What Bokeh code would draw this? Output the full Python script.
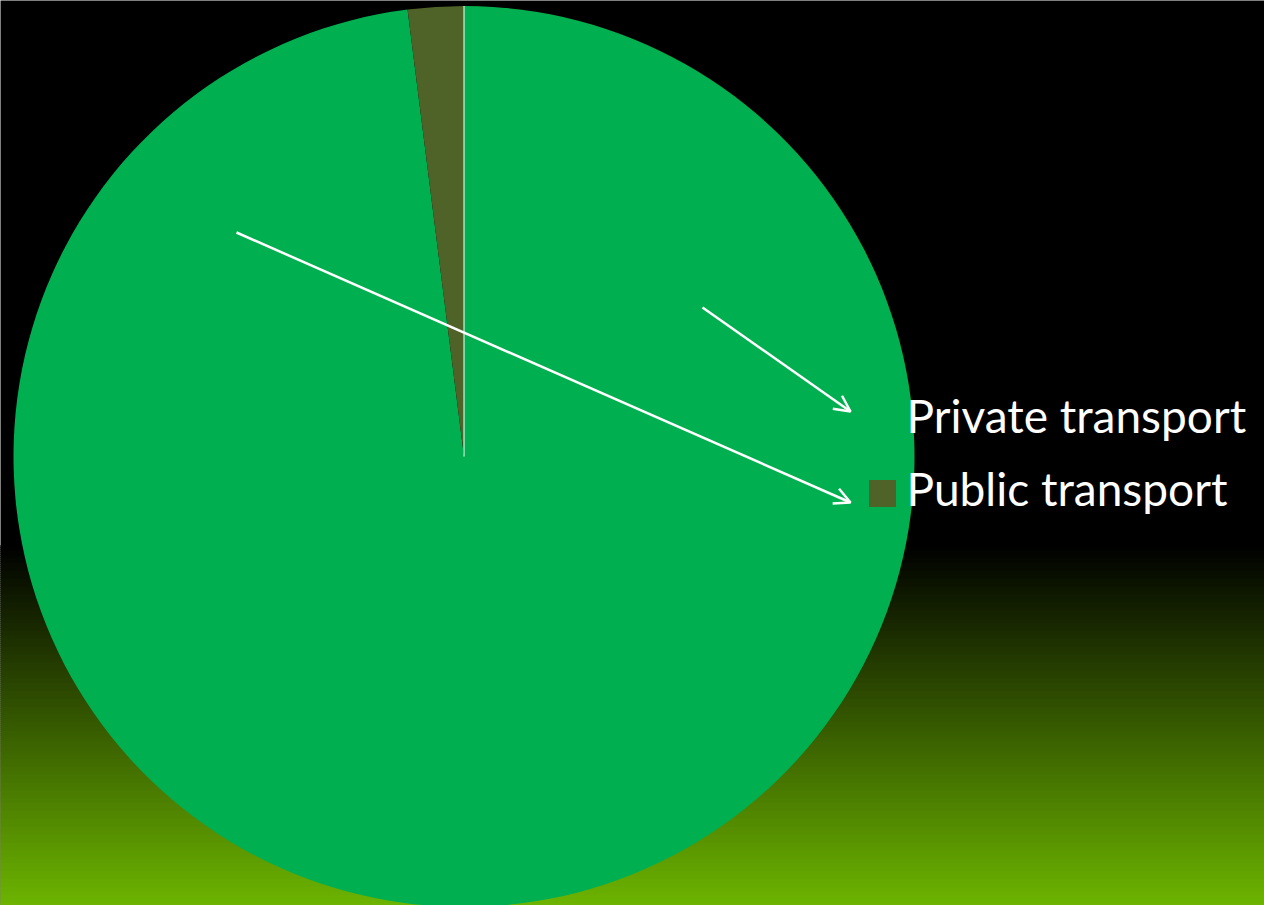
import math
import numpy as np
from bokeh.plotting import figure
from bokeh.models import Range1d, Arrow, OpenHead, ColumnDataSource
from bokeh.core.properties import value
from bokeh.embed import file_html
from bokeh.resources import INLINE

# ---- data ----
categories = ["Private transport", "Public transport"]
shares = [98.0, 2.0]
colors = ["#00B050", "#4F6228"]

W, H = 1264, 905
cx, cy, R = 463.5, H - 456, 450.5

p = figure(width=W, height=H, output_backend="svg", toolbar_location=None,
           x_range=Range1d(0, W), y_range=Range1d(0, H))
p.axis.visible = False
p.grid.visible = False
p.outline_line_color = None
p.min_border = 0
p.background_fill_color = "black"
p.border_fill_color = "black"

# background gradient (black -> green toward bottom)
g0, g1 = 545, H
n = 180
edges = np.linspace(g0, g1, n + 1)
cols = []
for i in range(n):
    t = (i + 0.5) / n
    r = int(round(108 * t)); g = int(round(180 * t))
    cols.append("#%02x%02x%02x" % (r, g, 0))
p.quad(left=0, right=W, top=[H - e for e in edges[:-1]], bottom=[H - e for e in edges[1:]],
       fill_color=cols, line_color=cols)

# pie (clockwise from 12 o'clock)
total = sum(shares)
starts, ends = [], []
acc = 0.0
for s in shares:
    a0 = math.pi / 2 - 2 * math.pi * acc / total
    acc += s
    a1 = math.pi / 2 - 2 * math.pi * acc / total
    starts.append(a0); ends.append(a1)
src = ColumnDataSource(dict(start=starts, end=ends, color=colors))
p.wedge(x=cx, y=cy, radius=R, start_angle="start", end_angle="end", direction="clock",
        fill_color="color", line_color=None, source=src)
# white boundary line at 12 o'clock
p.segment(x0=[cx], y0=[cy], x1=[cx + R * math.cos(starts[0])], y1=[cy + R * math.sin(starts[0])],
          line_color="white", line_width=1)

# legend
leg_x = 882
leg_y = [H - 420, H - 493]
p.scatter(x=[leg_x] * 2, y=leg_y, marker="square", size=27, fill_color=colors, line_color=None)
p.text(x=[906] * 2, y=[y + 5 for y in leg_y], text=categories, text_color="white",
       text_font=value("Lato"), text_font_size="46px", text_baseline="alphabetic", text_align="left")

# arrows
arrows = [((702, 307), (850, 411)), ((236, 232), (850, 502))]
for (x0, y0), (x1, y1) in arrows:
    p.add_layout(Arrow(end=OpenHead(size=16, line_color="white", line_width=2.5),
                       x_start=x0, y_start=H - y0, x_end=x1, y_end=H - y1,
                       line_color="white", line_width=2.5))

open("out.html", "w").write(file_html(p, INLINE))
